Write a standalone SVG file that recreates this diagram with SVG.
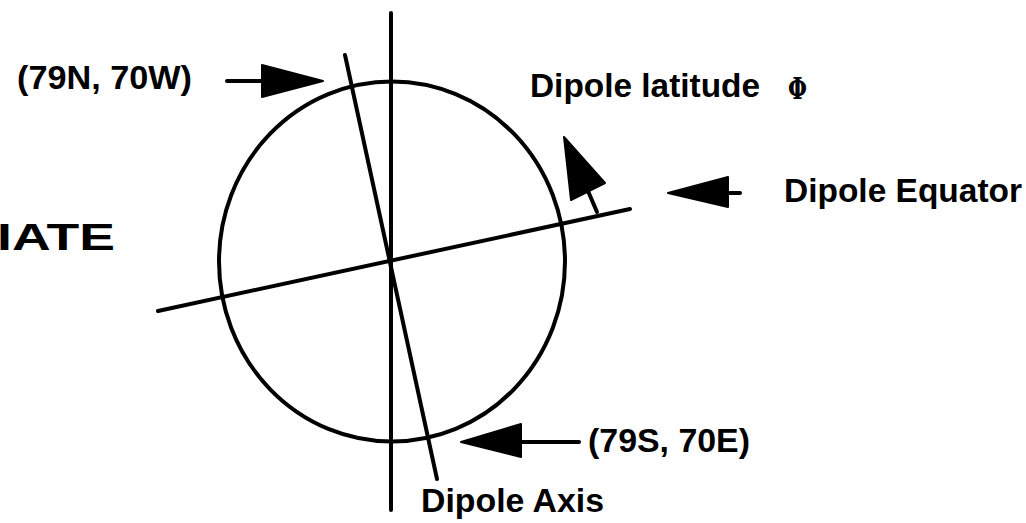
<svg xmlns="http://www.w3.org/2000/svg" width="1026" height="523" viewBox="0 0 1026 523">
<style>
.ln{stroke:#000;stroke-width:4;fill:none;stroke-linecap:round}
.ar{fill:#000;stroke:#000;stroke-width:2;stroke-linejoin:round}
.t{font-family:"Liberation Sans",Arial,sans-serif;font-weight:bold;font-size:33px;fill:#000}
.phi{font-family:"DejaVu Serif",serif;font-weight:bold;font-size:30px;fill:#000}
</style>
<rect width="1026" height="523" fill="#fff"/>
<g id="globe">
<ellipse cx="392" cy="261.5" rx="173" ry="180" class="ln"/>
</g>
<g id="connectors">
<line x1="391" y1="13" x2="391" y2="510" class="ln"/>
<line x1="345" y1="55" x2="437" y2="479" class="ln"/>
<line x1="158" y1="311" x2="630" y2="209" class="ln"/>
<line x1="227" y1="81" x2="264" y2="81" class="ln"/>
<polygon points="262,65 323,81 262,97" class="ar"/>
<line x1="588" y1="191" x2="597" y2="212" class="ln"/>
<polygon points="564,137 605,183 571,200" class="ar"/>
<line x1="726" y1="193" x2="740" y2="193" class="ln"/>
<polygon points="668,193 728,177 728,207" class="ar"/>
<line x1="519" y1="442" x2="579" y2="442" class="ln"/>
<polygon points="461,442 521,424 521,457" class="ar"/>
</g>
<g id="labels">
<text class="t" x="17" y="89" textLength="175" lengthAdjust="spacingAndGlyphs">(79N, 70W)</text>
<text class="t" x="530" y="97" textLength="230" lengthAdjust="spacingAndGlyphs">Dipole latitude</text>
<text class="phi" x="788" y="99" textLength="19" lengthAdjust="spacingAndGlyphs">Φ</text>
<text class="t" x="784" y="202" textLength="238" lengthAdjust="spacingAndGlyphs">Dipole Equator</text>
<text class="t" x="588" y="452" textLength="162" lengthAdjust="spacingAndGlyphs">(79S, 70E)</text>
<text class="t" x="421" y="512" textLength="183" lengthAdjust="spacingAndGlyphs">Dipole Axis</text>
<text class="t" x="-3" y="250" style="font-size:37px" textLength="118" lengthAdjust="spacingAndGlyphs">IATE</text>
</g>
</svg>
